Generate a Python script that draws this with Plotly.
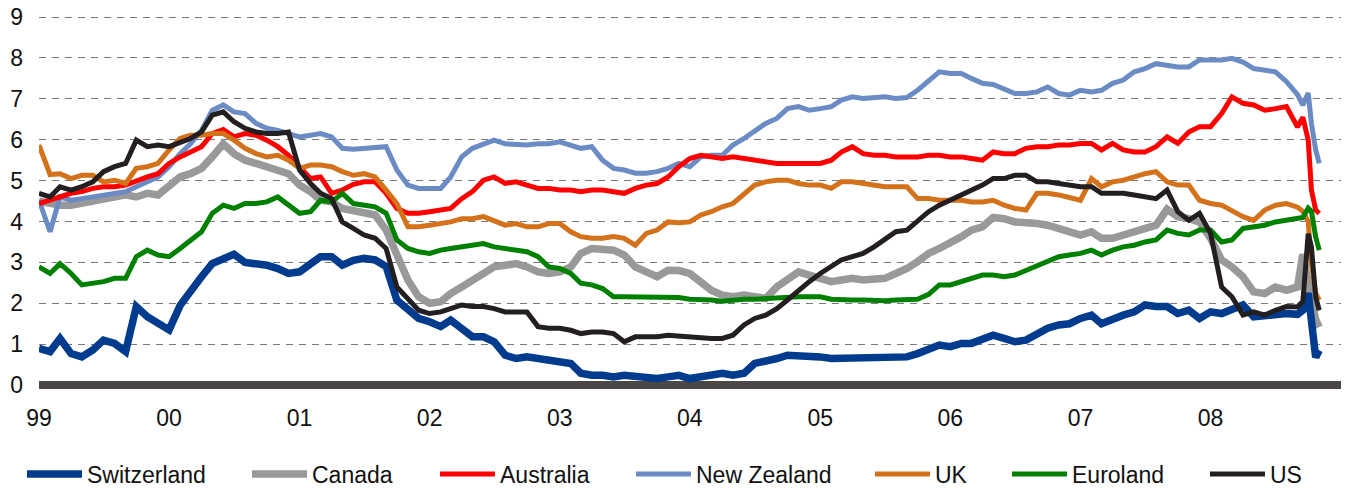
import pandas as pd
import plotly.graph_objects as go

# ---- dates: monthly Jan 1999 .. Sep 2008, then finer points for the autumn 2008 swings
month_dates = list(pd.date_range("1999-01-01", "2008-09-01", freq="MS"))
tail_dates = list(pd.to_datetime(["2008-09-16", "2008-10-01", "2008-10-10", "2008-10-22", "2008-11-01"]))
dates = month_dates + tail_dates

switzerland = [
    0.9, 0.82, 1.14, 0.77, 0.69, 0.86, 1.1, 1.02, 0.82, 1.92,
    1.67, 1.5, 1.35, 1.95, 2.32, 2.65, 2.97, 3.1, 3.2, 3.0,
    2.97, 2.93, 2.85, 2.73, 2.77, 2.97, 3.14, 3.14, 2.93, 3.05,
    3.1, 3.06, 2.9, 2.08, 1.83, 1.63, 1.55, 1.43, 1.59, 1.39,
    1.18, 1.18, 1.06, 0.73, 0.65, 0.69, 0.65, 0.61, 0.57, 0.53,
    0.29, 0.24, 0.24, 0.2, 0.24, 0.2, 0.2, 0.16, 0.2, 0.24,
    0.16, 0.2, 0.24, 0.29, 0.24, 0.29, 0.53, 0.57, 0.65, 0.73,
    0.73, 0.73, 0.69, 0.65, 0.65, 0.69, 0.68, 0.69, 0.69, 0.68,
    0.69, 0.77, 0.9, 0.98, 0.94, 1.02, 1.02, 1.14, 1.22, 1.14,
    1.06, 1.1, 1.26, 1.39, 1.47, 1.5, 1.63, 1.71, 1.5, 1.63,
    1.71, 1.79, 1.96, 1.92, 1.92, 1.75, 1.83, 1.63, 1.79, 1.75,
    1.83, 1.96, 1.67, 1.71, 1.71, 1.75, 1.73,
    1.83, 2.25, 1.42, 0.68, 0.85,
]
canada = [
    4.5, 4.45, 4.4, 4.4, 4.45, 4.5, 4.55, 4.6, 4.65, 4.6,
    4.69, 4.65, 4.85, 5.09, 5.17, 5.3, 5.58, 5.9, 5.66, 5.5,
    5.42, 5.34, 5.26, 5.17, 4.89, 4.73, 4.52, 4.48, 4.32, 4.28,
    4.24, 4.16, 3.79, 3.22, 2.57, 2.16, 2.0, 2.04, 2.24, 2.4,
    2.57, 2.77, 2.89, 2.93, 2.97, 2.89, 2.77, 2.73, 2.77, 2.89,
    3.22, 3.34, 3.34, 3.3, 3.18, 2.89, 2.77, 2.65, 2.81, 2.8,
    2.73, 2.53, 2.32, 2.2, 2.16, 2.2, 2.16, 2.12, 2.4, 2.61,
    2.77, 2.69, 2.61, 2.53, 2.57, 2.61, 2.57, 2.57, 2.61, 2.73,
    2.85, 3.02, 3.22, 3.34, 3.46, 3.63, 3.79, 3.87, 4.1, 4.07,
    3.99, 3.99, 3.95, 3.91, 3.83, 3.71, 3.67, 3.75, 3.59, 3.59,
    3.67, 3.71, 3.79, 3.91, 4.3, 4.12, 4.07, 3.99, 3.59, 3.06,
    2.89, 2.65, 2.28, 2.24, 2.4, 2.32, 2.4,
    3.2, 2.5, 2.0, 1.6, 1.42,
]
australia = [
    4.44, 4.52, 4.6, 4.69, 4.73, 4.81, 4.85, 4.85, 4.89, 5.0,
    5.09, 5.17, 5.42, 5.58, 5.7, 5.83, 6.15, 6.25, 6.07, 6.15,
    6.11, 5.99, 5.83, 5.62, 5.34, 5.05, 5.09, 4.69, 4.77, 4.91,
    4.97, 4.97, 4.69, 4.32, 4.2, 4.2, 4.24, 4.28, 4.32, 4.56,
    4.73, 5.01, 5.09, 4.93, 4.97, 4.89, 4.81, 4.81, 4.77, 4.77,
    4.73, 4.77, 4.77, 4.73, 4.69, 4.81, 4.89, 4.93, 5.09, 5.34,
    5.54, 5.62, 5.58, 5.54, 5.58, 5.54, 5.5, 5.46, 5.42, 5.42,
    5.42, 5.42, 5.42, 5.5, 5.7, 5.83, 5.66, 5.62, 5.62, 5.58,
    5.58, 5.58, 5.62, 5.62, 5.58, 5.58, 5.54, 5.5, 5.7, 5.66,
    5.66, 5.79, 5.83, 5.83, 5.87, 5.87, 5.91, 5.91, 5.75, 5.91,
    5.75, 5.7, 5.7, 5.83, 6.07, 5.91, 6.19, 6.32, 6.32, 6.64,
    7.05, 6.89, 6.85, 6.72, 6.76, 6.81, 6.31,
    6.55, 5.99, 4.77, 4.28, 4.2,
]
new_zealand = [
    4.52, 3.75, 4.6, 4.52, 4.56, 4.6, 4.65, 4.69, 4.73, 4.85,
    4.97, 5.09, 5.34, 5.66, 5.9, 6.23, 6.72, 6.85, 6.68, 6.64,
    6.4, 6.28, 6.23, 6.15, 6.07, 6.11, 6.15, 6.07, 5.79, 5.77,
    5.79, 5.79, 5.83, 5.26, 4.89, 4.81, 4.81, 4.81, 5.09, 5.58,
    5.79, 5.9, 5.99, 5.9, 5.87, 5.87, 5.9, 5.9, 5.95, 5.87,
    5.79, 5.83, 5.5, 5.3, 5.26, 5.18, 5.18, 5.22, 5.3, 5.42,
    5.34, 5.58, 5.62, 5.62, 5.87, 6.03, 6.23, 6.4, 6.52, 6.76,
    6.81, 6.72, 6.76, 6.81, 6.97, 7.05, 7.01, 7.03, 7.05, 7.01,
    7.03, 7.21, 7.42, 7.66, 7.62, 7.62, 7.5, 7.38, 7.35, 7.25,
    7.13, 7.13, 7.17, 7.29, 7.13, 7.09, 7.21, 7.17, 7.21, 7.38,
    7.46, 7.66, 7.74, 7.86, 7.82, 7.78, 7.78, 7.95, 7.95, 7.95,
    7.99, 7.9, 7.74, 7.7, 7.66, 7.42, 7.1,
    6.85, 7.14, 6.4, 5.75, 5.42,
]
uk = [
    5.87, 5.15, 5.17, 5.05, 5.13, 5.13, 4.97, 5.01, 4.93, 5.3,
    5.34, 5.42, 5.75, 6.03, 6.11, 6.11, 6.15, 6.15, 5.99, 5.79,
    5.66, 5.58, 5.62, 5.5, 5.3, 5.38, 5.38, 5.34, 5.22, 5.13,
    5.17, 5.09, 4.77, 4.44, 3.87, 3.87, 3.91, 3.95, 3.99, 4.07,
    4.07, 4.12, 4.03, 3.91, 3.95, 3.87, 3.87, 3.95, 3.95, 3.75,
    3.63, 3.59, 3.59, 3.63, 3.59, 3.42, 3.71, 3.79, 3.99, 3.97,
    3.99, 4.16, 4.24, 4.36, 4.44, 4.65, 4.89, 4.97, 5.01, 5.01,
    4.93, 4.89, 4.89, 4.81, 4.97, 4.97, 4.93, 4.89, 4.85, 4.85,
    4.85, 4.56, 4.56, 4.52, 4.52, 4.52, 4.48, 4.48, 4.52, 4.4,
    4.32, 4.28, 4.69, 4.69, 4.65, 4.6, 4.52, 5.05, 4.85, 4.97,
    5.01, 5.09, 5.17, 5.22, 4.97, 4.89, 4.89, 4.52, 4.44, 4.4,
    4.28, 4.12, 4.03, 4.28, 4.4, 4.44, 4.35,
    4.25, 4.0, 2.98, 2.25, 2.08,
]
euroland = [
    2.89, 2.73, 2.97, 2.73, 2.45, 2.49, 2.53, 2.61, 2.61, 3.14,
    3.3, 3.18, 3.14, 3.34, 3.55, 3.75, 4.2, 4.4, 4.32, 4.44,
    4.44, 4.48, 4.6, 4.4, 4.2, 4.24, 4.52, 4.48, 4.69, 4.44,
    4.4, 4.36, 4.2, 3.55, 3.34, 3.26, 3.22, 3.3, 3.34, 3.38,
    3.42, 3.46, 3.38, 3.34, 3.3, 3.26, 3.14, 2.89, 2.85, 2.73,
    2.49, 2.45, 2.36, 2.16, 2.16, 2.16, 2.16, 2.14, 2.17, 2.14,
    2.1, 2.1, 2.08, 2.05, 2.08, 2.1, 2.1, 2.12, 2.14, 2.14,
    2.16, 2.16, 2.16, 2.1, 2.08, 2.08, 2.08, 2.06, 2.06, 2.08,
    2.08, 2.1, 2.22, 2.45, 2.45, 2.53, 2.61, 2.69, 2.69, 2.65,
    2.69, 2.81, 2.93, 3.02, 3.14, 3.18, 3.22, 3.3, 3.18, 3.3,
    3.38, 3.42, 3.5, 3.55, 3.79, 3.71, 3.67, 3.79, 3.79, 3.5,
    3.55, 3.83, 3.87, 3.91, 3.99, 4.03, 4.07,
    4.1, 4.33, 4.25, 3.62, 3.3,
]
us = [
    4.69, 4.6, 4.85, 4.77, 4.85, 4.97, 5.22, 5.34, 5.42, 5.99,
    5.83, 5.87, 5.83, 5.95, 6.03, 6.19, 6.6, 6.68, 6.44, 6.28,
    6.19, 6.15, 6.15, 6.19, 5.26, 4.93, 4.69, 4.56, 3.99, 3.83,
    3.67, 3.59, 3.34, 2.4, 2.12, 1.83, 1.75, 1.79, 1.87, 1.96,
    1.92, 1.92, 1.87, 1.79, 1.79, 1.79, 1.43, 1.39, 1.39, 1.34,
    1.26, 1.3, 1.3, 1.26, 1.06, 1.18, 1.18, 1.18, 1.22, 1.2,
    1.18, 1.14, 1.14, 1.14, 1.22, 1.47, 1.63, 1.71, 1.87, 2.08,
    2.32, 2.53, 2.73, 2.89, 3.06, 3.14, 3.22, 3.38, 3.55, 3.75,
    3.79, 4.03, 4.24, 4.4, 4.52, 4.65, 4.77, 4.89, 5.05, 5.05,
    5.13, 5.13, 4.97, 4.97, 4.93, 4.89, 4.85, 4.85, 4.69, 4.69,
    4.69, 4.65, 4.6, 4.56, 4.77, 4.24, 4.03, 4.2, 3.71, 2.4,
    2.16, 1.71, 1.79, 1.71, 1.83, 1.92, 1.91,
    2.05, 3.7, 3.38, 2.15, 1.83,
]

y_ticks = [0, 1, 2, 3, 4, 5, 6, 7, 8, 9]
x_ticks = [f"{yr}-01-01" for yr in range(1999, 2009)]
x_tick_labels = ["99", "00", "01", "02", "03", "04", "05", "06", "07", "08"]

# name, values, colour, width, legend id (drawing order)
series = [
    ("Canada", canada, "#999999", 7.5, "legend2"),
    ("Switzerland", switzerland, "#003B8E", 7.5, "legend"),
    ("New Zealand", new_zealand, "#6A8BC4", 5, "legend4"),
    ("Australia", australia, "#FF0000", 5, "legend3"),
    ("UK", uk, "#D4711B", 5, "legend5"),
    ("Euroland", euroland, "#008000", 5, "legend6"),
    ("US", us, "#231F20", 5, "legend7"),
]

FONT = "Liberation Sans, Arial, Helvetica, sans-serif"

fig = go.Figure()
for name, vals, col, w, lg in series:
    assert len(vals) == len(dates), (name, len(vals), len(dates))
    fig.add_trace(go.Scatter(
        x=dates, y=vals, mode="lines", name=name,
        line=dict(color=col, width=w), legend=lg, showlegend=True,
    ))

PLOT_L, PLOT_W = 39, 1302
# pixel where each legend's line sample should start
legend_starts = {"legend": 27, "legend2": 252, "legend3": 440, "legend4": 636,
                 "legend5": 875, "legend6": 1012, "legend7": 1210}
legend_layout = {}
for lg, px in legend_starts.items():
    legend_layout[lg] = dict(
        x=(px - 5 - PLOT_L) / PLOT_W, y=-0.224, xanchor="left", yanchor="middle",
        orientation="h", itemwidth=55, bgcolor="rgba(0,0,0,0)",
        font=dict(family=FONT, size=23, color="#111111"),
    )

fig.update_layout(
    width=1350, height=498,
    margin=dict(l=39, r=9, t=15, b=108, autoexpand=False),
    paper_bgcolor="white", plot_bgcolor="white",
    font=dict(family=FONT, size=23, color="#111111"),
    **legend_layout,
)
fig.update_xaxes(
    type="date", range=["1999-01-01", "2009-01-01"],
    tickvals=x_ticks, ticktext=x_tick_labels,
    showgrid=False, showline=False, zeroline=False, ticks="",
    tickfont=dict(family=FONT, size=23, color="#111111"),
    ticklabelstandoff=12,
)
fig.update_yaxes(
    range=[-0.12, 9.05], tickvals=y_ticks, ticktext=[str(v) for v in y_ticks],
    showgrid=True, gridcolor="#7a7a7a", gridwidth=1, griddash="7px,6px",
    zeroline=True, zerolinecolor="#4B4746", zerolinewidth=8,
    showline=False, ticks="",
    tickfont=dict(family=FONT, size=23, color="#111111"),
    ticklabelstandoff=15,
)

fig.write_html("out.html", config={"displayModeBar": False},
               post_script="document.body.style.margin='0';")
